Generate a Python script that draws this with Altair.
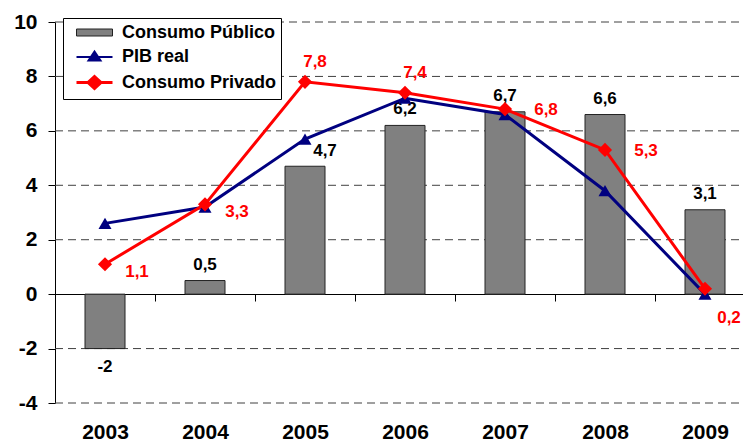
import altair as alt
import pandas as pd

years = ["2003", "2004", "2005", "2006", "2007", "2008", "2009"]
consumo_publico = [-2, 0.5, 4.7, 6.2, 6.7, 6.6, 3.1]
pib_real = [2.6, 3.2, 5.7, 7.2, 6.6, 3.8, 0.0]
consumo_privado = [1.1, 3.3, 7.8, 7.4, 6.8, 5.3, 0.2]
series = ["Consumo Público", "PIB real", "Consumo Privado"]
y_ticks = [-4, -2, 0, 2, 4, 6, 8, 10]
grid_values = [-4, -2, 2, 4, 6, 8, 10]


def fmt(v):
    return f"{v:g}".replace(".", ",")


FONT = "Liberation Sans"
NAVY = "#000080"
RED = "#FF0000"

bars_df = pd.DataFrame({"year": years, "value": consumo_publico,
                        "label": [fmt(v) for v in consumo_publico]})
pib_df = pd.DataFrame({"year": years, "value": pib_real, "serie": "PIB real"})
priv_df = pd.DataFrame({"year": years, "value": consumo_privado,
                        "serie": "Consumo Privado",
                        "label": [fmt(v) for v in consumo_privado]})
lines_df = pd.concat([pib_df, priv_df], ignore_index=True)
grid_df = pd.DataFrame({"value": grid_values})

x_enc = alt.X("year:N", scale=alt.Scale(domain=years, range=[0, 700],
                                        paddingInner=0, paddingOuter=0),
              axis=alt.Axis(orient="bottom", offset=-109, title=None,
                            domain=True, domainColor="black", domainWidth=1,
                            ticks=True, tickColor="black", tickSize=7,
                            tickBand="extent", grid=False, labelAngle=0,
                            labelPadding=120, labelFont=FONT, labelFontSize=21,
                            labelFontWeight="bold", labelColor="black"))
y_scale = alt.Scale(domain=[-4, 10], nice=False, zero=False)
y_enc = alt.Y("value:Q", scale=y_scale,
              axis=alt.Axis(values=y_ticks, title=None, grid=False,
                            domain=True, domainColor="black", ticks=True,
                            tickColor="black", tickSize=7, labelPadding=11,
                            labelFont=FONT, labelFontSize=21,
                            labelFontWeight="bold", labelColor="black",
                            labelExpr="toString(datum.value)"))

grid = alt.Chart(grid_df).mark_rule(color="#404040", strokeWidth=1,
                                    strokeDash=[8, 5]).encode(
    y=alt.Y("value:Q", scale=y_scale), x=alt.value(0), x2=alt.value(700))

bars = alt.Chart(bars_df).mark_bar(size=40, color="#808080", stroke="#222222",
                                   strokeWidth=1).encode(x=x_enc, y=y_enc)


def text_layer(df, cond, dx, dy, color):
    return alt.Chart(df).transform_filter(cond).mark_text(
        dx=dx, dy=dy, baseline="middle", align="center", font=FONT,
        fontSize=17, fontWeight="bold", color=color).encode(
        x="year:N", y=alt.Y("value:Q", scale=y_scale), text="label:N")


bar_labels = [
    text_layer(bars_df, "datum.value > 0 && datum.year != '2005'", 0, -16, "black"),
    text_layer(bars_df, "datum.year == '2005'", 20, -15, "black"),
    text_layer(bars_df, "datum.value < 0", 0, 18, "black"),
]
red_labels = [
    text_layer(priv_df, "datum.year == '2005' || datum.year == '2006'", 10, -20, RED),
    text_layer(priv_df, "datum.year == '2007' || datum.year == '2008'", 41, 1, RED),
    text_layer(priv_df, "datum.year == '2003' || datum.year == '2004'", 32, 8, RED),
    text_layer(priv_df, "datum.year == '2009'", 24, 29, RED),
]

pib_line = alt.Chart(pib_df).mark_line(color=NAVY, strokeWidth=3).encode(
    x="year:N", y=alt.Y("value:Q", scale=y_scale))
priv_line = alt.Chart(priv_df).mark_line(color=RED, strokeWidth=3).encode(
    x="year:N", y=alt.Y("value:Q", scale=y_scale))
pib_pts = alt.Chart(pib_df).mark_point(shape="triangle-up", filled=True,
                                       size=170, color=NAVY, opacity=1).encode(
    x="year:N", y=alt.Y("value:Q", scale=y_scale))
priv_pts = alt.Chart(priv_df).mark_point(shape="diamond", filled=True,
                                         size=200, color=RED, opacity=1).encode(
    x="year:N", y=alt.Y("value:Q", scale=y_scale))

legend = alt.Legend(title=None, orient="none", legendX=8, legendY=-4,
                    fillColor="white", strokeColor="black", padding=4,
                    cornerRadius=0, symbolSize=400, symbolOpacity=1,
                    labelFont=FONT, labelFontSize=18, labelFontWeight="bold",
                    labelColor="black", labelOffset=32, rowPadding=4,
                    labelExpr="datum.label + '\u2002'")
fills = ["#808080", NAVY, RED]
strokes = ["#222222", NAVY, RED]
paths = [
    "M-0.2,-0.35H3.4V0.35H-0.2Z",
    "M-0.2,0H3.4M1.0,0.35L1.6,-0.55L2.2,0.35Z",
    "M-0.2,0H3.4M1.6,-0.6L2.25,0L1.6,0.6L0.95,0Z",
]
legend_layer = alt.Chart(lines_df).mark_point(filled=True, opacity=0).encode(
    x="year:N", y=alt.Y("value:Q", scale=y_scale),
    fill=alt.Fill("serie:N", scale=alt.Scale(domain=series, range=fills), legend=legend),
    stroke=alt.Stroke("serie:N", scale=alt.Scale(domain=series, range=strokes), legend=legend),
    shape=alt.Shape("serie:N", scale=alt.Scale(domain=series, range=paths), legend=legend),
    strokeWidth=alt.StrokeWidth("serie:N", scale=alt.Scale(domain=series, range=[1, 3, 3]),
                                legend=legend),
)

chart = alt.layer(
    grid, bars, *bar_labels, pib_line, priv_line, pib_pts, priv_pts,
    *red_labels, legend_layer
).properties(
    width=680, height=381,
    padding={"left": 47, "top": 14, "right": 8, "bottom": 40},
    autosize=alt.AutoSizeParams(type="none"),
    background="white",
).configure_view(strokeWidth=0)

chart.save("out.html", embed_options={"renderer": "svg", "actions": False})
